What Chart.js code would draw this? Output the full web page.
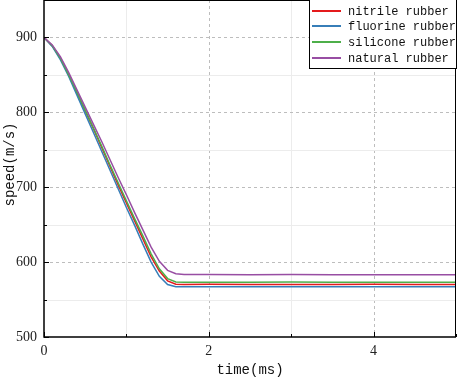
<!DOCTYPE html>
<html>
<head>
<meta charset="utf-8">
<script src="https://cdn.jsdelivr.net/npm/chart.js@4/dist/chart.umd.min.js"></script>
<style>
html,body{margin:0;padding:0;background:#fff;}
#wrap{width:457px;height:377px;}
</style>
</head>
<body>
<div id="wrap"><canvas id="c" width="457" height="377"></canvas></div>
<script>
// time (ms)
const times = [0,0.1,0.2,0.3,0.4,0.5,0.6,0.7,0.8,0.9,1.0,1.1,1.2,1.3,1.4,1.5,1.6,1.7,2.0,2.5,3.0,3.5,4.0,4.5,5.0];
const seriesLabels = ['nitrile rubber','fluorine rubber','silicone rubber','natural rubber'];
const nitrile  = [900,889,872,850,826,802,778,753,728,703,679,655,631,607,588,575,570.5,570,570.3,570,570.2,570,570.3,570.1,570.2];
const fluorine = [900,888,870,848,823,798,773,748,723,698,673,649,624,600,581,570,567.2,567,567.2,567,567.1,567,567.2,567,567.1];
const silicone = [900,889,872,850,827,803,779,755,730,706,682,658,635,611,591,578,573.5,573,573.2,573,573.3,573,573.1,573,573.2];
const natural  = [900,890,874,853,830,807,784,761,737,713,690,666,643,620,601,589,584.5,583.5,583.3,583,583.4,583.1,583.2,583,583.2];
const xTicks = [0,1,2,3,4,5];
const yTicks = [500,550,600,650,700,750,800,850,900,950];
const colors = ['#e41a1c','#377eb8','#4daf4a','#984ea3'];
const allSeries = [nitrile, fluorine, silicone, natural];

const monoFont = '"Liberation Mono", "DejaVu Sans Mono", monospace';
const serifFont = "'Liberation Serif', 'Times New Roman', serif";

const decor = {
  id:'decor',
  beforeDatasetsDraw(chart){
    const {ctx, chartArea:a, scales:{x,y}} = chart;
    ctx.save();
    ctx.lineWidth = 1;
    xTicks.forEach(v=>{
      if (v===0 || v===5) return;
      const px = Math.round(x.getPixelForValue(v))+0.5;
      ctx.beginPath();
      if (v%2===0){ ctx.strokeStyle='#bdbdbd'; ctx.setLineDash([3,3]); }
      else { ctx.strokeStyle='#ececec'; ctx.setLineDash([]); }
      ctx.moveTo(px,a.top); ctx.lineTo(px,a.bottom); ctx.stroke();
    });
    yTicks.forEach(v=>{
      if (v===500 || v===950) return;
      const py = Math.round(y.getPixelForValue(v))+0.5;
      ctx.beginPath();
      if (v%100===0){ ctx.strokeStyle='#bdbdbd'; ctx.setLineDash([3,3]); }
      else { ctx.strokeStyle='#ececec'; ctx.setLineDash([]); }
      ctx.moveTo(a.left,py); ctx.lineTo(a.right,py); ctx.stroke();
    });
    ctx.restore();
  },
  afterDraw(chart){
    const {ctx, chartArea:a, scales:{x,y}} = chart;
    ctx.save();
    ctx.setLineDash([]);
    ctx.strokeStyle='#000';
    ctx.lineWidth=1.5;
    ctx.beginPath();
    ctx.moveTo(a.left, a.top); ctx.lineTo(a.left, a.bottom); ctx.lineTo(a.right, a.bottom);
    ctx.stroke();
    ctx.lineWidth=1;
    ctx.beginPath();
    ctx.moveTo(a.right-0.5, a.bottom); ctx.lineTo(a.right-0.5, a.top+0.5); ctx.lineTo(a.left, a.top+0.5);
    ctx.stroke();
    ctx.lineWidth=1;
    xTicks.forEach(v=>{
      const px = Math.round(x.getPixelForValue(v))+0.5;
      const len = v%2===0 ? 5 : 3;
      ctx.beginPath(); ctx.moveTo(px,a.bottom); ctx.lineTo(px,a.bottom-len); ctx.stroke();
    });
    yTicks.forEach(v=>{
      const py = Math.round(y.getPixelForValue(v))+0.5;
      const len = v%100===0 ? 5 : 3;
      ctx.beginPath(); ctx.moveTo(a.left,py); ctx.lineTo(a.left+len,py); ctx.stroke();
    });
    ctx.fillStyle='#111';
    ctx.font = '14px ' + monoFont;
    ctx.textAlign='center'; ctx.textBaseline='middle';
    ctx.fillText('time(ms)', (a.left+a.right)/2, 370);
    ctx.save();
    ctx.translate(10, (a.top+a.bottom)/2 - 4);
    ctx.rotate(-Math.PI/2);
    ctx.fillText('speed(m/s)', 0, 0);
    ctx.restore();
    // legend
    const lx = 309.5, ly = -0.5, lw = 147, lh = 69;
    ctx.fillStyle='#fff';
    ctx.fillRect(lx, 0, lw, lh);
    ctx.strokeStyle='#000'; ctx.lineWidth=1;
    ctx.strokeRect(lx, ly, lw, lh);
    ctx.font = '12px ' + monoFont;
    ctx.textAlign='left'; ctx.textBaseline='middle';
    const rows = [11,26,42,58];
    chart.data.datasets.forEach((ds,i)=>{
      ctx.strokeStyle = ds.borderColor; ctx.lineWidth=2;
      ctx.beginPath(); ctx.moveTo(312, rows[i]); ctx.lineTo(341, rows[i]); ctx.stroke();
      ctx.fillStyle='#111';
      ctx.fillText(ds.label, 348, rows[i]+1);
    });
    ctx.restore();
  }
};

function zeroPad(s){ s.paddingTop=0; s.paddingBottom=0; s.paddingLeft=0; s.paddingRight=0; }

new Chart(document.getElementById('c'), {
  type:'line',
  data:{
    datasets: seriesLabels.map((lab,i)=>({
      label: lab,
      data: times.map((t,k)=>({x:t, y:allSeries[i][k]})),
      borderColor: colors[i],
      backgroundColor: colors[i],
      borderWidth: 1.5,
      pointRadius: 0,
      tension: 0,
      fill: false,
      order: 3 - i
    }))
  },
  options:{
    responsive:false,
    animation:false,
    devicePixelRatio:1,
    layout:{padding:{left:0,right:1,top:0,bottom:0}},
    plugins:{legend:{display:false}, tooltip:{enabled:false}},
    scales:{
      x:{
        type:'linear', min:0, max:5,
        afterBuildTicks(s){ s.ticks = xTicks.map(v=>({value:v})); },
        afterFit(s){ s.height = 40; zeroPad(s); },
        grid:{display:false, drawTicks:false},
        border:{display:false},
        ticks:{
          padding:6, color:'#222', maxRotation:0,
          font:{family:serifFont, size:14},
          callback:(v)=> (v%2===0 ? String(v) : '')
        }
      },
      y:{
        type:'linear', min:500, max:950,
        afterBuildTicks(s){ s.ticks = yTicks.map(v=>({value:v})); },
        afterFit(s){ s.width = 44; zeroPad(s); },
        grid:{display:false, drawTicks:false},
        border:{display:false},
        ticks:{
          padding:7, color:'#222',
          font:{family:serifFont, size:14},
          callback:(v)=> (v%100===0 ? String(v) : '')
        }
      }
    }
  },
  plugins:[decor]
});
</script>
</body>
</html>
